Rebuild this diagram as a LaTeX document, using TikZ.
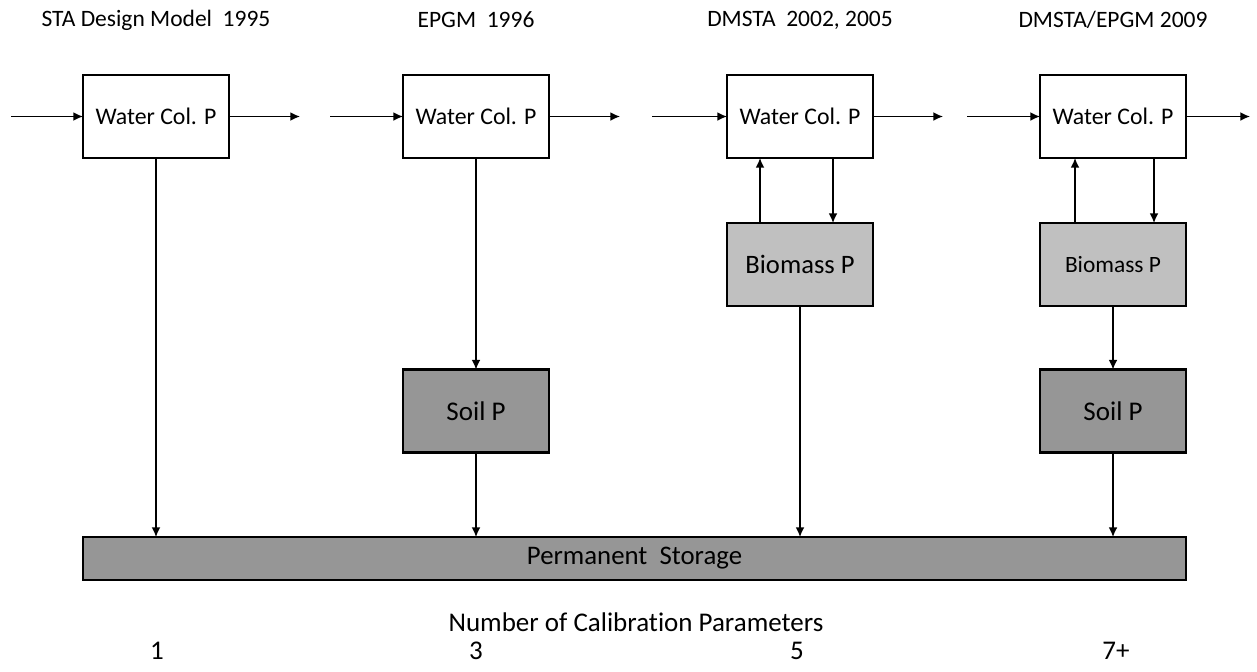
\documentclass[tikz,border=0pt]{standalone}
\usepackage{fontspec}
\setmainfont{Carlito}[Ligatures=NoCommon]
\usepackage{tikz}
\usetikzlibrary{arrows.meta}
\usetikzlibrary{positioning}
\definecolor{bio-gray}{HTML}{C0C0C0}
\definecolor{soil-gray}{HTML}{969696}

\begin{document}
\begin{tikzpicture}[x=0.5pt, y=-0.5pt, >={Latex[length=4.8pt, width=4.4pt]},
    cell/.style={draw, line width=1.2pt, inner sep=0pt, outer sep=0pt,
        minimum width=73pt, minimum height=41.5pt},
    water/.style={cell, fill=white, font=\fontsize{11.9}{14}\selectfont},
    biomass/.style={cell, fill=bio-gray, font=\fontsize{13.3}{15}\selectfont},
    soil/.style={cell, fill=soil-gray, font=\fontsize{13.5}{15}\selectfont},
    flow/.style={->, line width=0.75pt},
    label/.style={font=\fontsize{11.75}{14}\selectfont, inner sep=0pt}]
    \useasboundingbox (0,0) rectangle (1257,671);

    % --- Model headings ---
    \node[label] (h1) at (156, 20) {STA Design Model~~1995};
    \node[label] (h2) at (476, 20) {EPGM~~1996};
    \node[label] (h3) at (800, 20) {DMSTA~~2002, 2005};
    \node[label] (h4) at (1113, 20) {DMSTA/EPGM 2009};

    % --- Water column boxes and through flow ---
    \node[water] (w1) at (156, 116.5) {Water Col. P};
    \node[water] (w2) at (476, 116.5) {Water Col. P};
    \node[water] (w3) at (800, 116.5) {Water Col. P};
    \node[water] (w4) at (1113, 116.5) {Water Col. P};
    \coordinate (in1) at (11, 116.5);   \coordinate (out1) at (300, 116.5);
    \coordinate (in2) at (330, 116.5);  \coordinate (out2) at (620, 116.5);
    \coordinate (in3) at (652, 116.5);  \coordinate (out3) at (943, 116.5);
    \coordinate (in4) at (967, 116.5);  \coordinate (out4) at (1250, 116.5);
    \foreach \i in {1,...,4} {
        \draw[flow] (in\i) -- (w\i.west);
        \draw[flow] (w\i.east) -- (out\i);
    }

    % --- Biomass and soil compartments ---
    \node[biomass] (b3) at (800, 264.5) {Biomass P};
    \node[biomass, font=\fontsize{11.7}{14}\selectfont] (b4) at (1113, 264.5) {Biomass P};
    \node[soil] (s2) at (476, 411) {Soil P};
    \node[soil] (s4) at (1113, 411) {Soil P};

    % --- Permanent storage ---
    \node[cell, fill=soil-gray, minimum width=551.5pt, minimum height=21.5pt,
        font=\fontsize{13.4}{15}\selectfont] (store) at (634.5, 558.5) {Permanent~~Storage};

    % --- Exchanges ---
    \draw[flow] (w1.south) -- (w1.south |- store.north);
    \draw[flow] (w2.south) -- (s2.north);
    \draw[flow] (s2.south) -- (s2.south |- store.north);
    \draw[flow] ([xshift=-20pt]b3.north) -- ([xshift=-20pt]w3.south);
    \draw[flow] ([xshift=16.5pt]w3.south) -- ([xshift=16.5pt]b3.north);
    \draw[flow] (b3.south) -- (b3.south |- store.north);
    \draw[flow] ([xshift=-19pt]b4.north) -- ([xshift=-19pt]w4.south);
    \draw[flow] ([xshift=20.5pt]w4.south) -- ([xshift=20.5pt]b4.north);
    \draw[flow] (b4.south) -- (s4.north);
    \draw[flow] (s4.south) -- (s4.south |- store.north);

    % --- Calibration parameters ---
    \node[label, font=\fontsize{13.5}{15}\selectfont] (ncal) at (636, 622) {Number of Calibration Parameters};
    \foreach \x/\n [count=\k] in {157/1, 476/3, 797/5, 1116/7+}
        \node[label, font=\fontsize{13.5}{15}\selectfont] (n\k) at (\x, 651) {\n};
\end{tikzpicture}
\end{document}
